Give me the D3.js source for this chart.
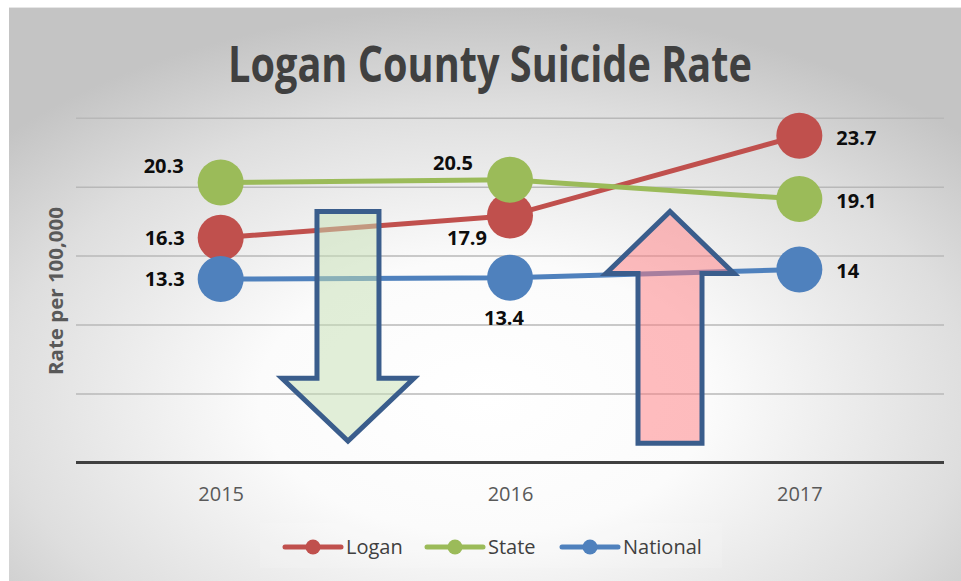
<!DOCTYPE html>
<html>
<head>
<meta charset="utf-8">
<script src="https://cdn.jsdelivr.net/npm/d3@7"></script>
<style>
  body { margin: 0; background: #fff; }
  svg { display: block; font-family: "Open Sans", "Noto Sans", sans-serif; }
</style>
</head>
<body>
<div id="chart"></div>
<script>
// Chart data
const years = ["2015", "2016", "2017"];
const logan = [16.3, 17.9, 23.7];
const state = [20.3, 20.5, 19.1];
const national = [13.3, 13.4, 14];
const seriesNames = ["Logan", "State", "National"];
const seriesColors = ["#c0504d", "#9bbb59", "#4f81bd"];

const width = 961, height = 581;
const plot = { left: 76, right: 944, top: 117.7, bottom: 462.5 };

const svg = d3.select("#chart").append("svg")
    .attr("width", width)
    .attr("height", height);

// Background gradient like the Excel chart area
const defs = svg.append("defs");
const grad = defs.append("radialGradient")
    .attr("id", "bg")
    .attr("cx", "50%").attr("cy", "68%").attr("r", "68%");
grad.append("stop").attr("offset", "0%").attr("stop-color", "#ffffff");
grad.append("stop").attr("offset", "35%").attr("stop-color", "#fbfbfb");
grad.append("stop").attr("offset", "75%").attr("stop-color", "#dedede");
grad.append("stop").attr("offset", "100%").attr("stop-color", "#c4c4c4");

svg.append("rect")
    .attr("x", 9).attr("y", 7)
    .attr("width", width - 9).attr("height", height - 7)
    .attr("fill", "url(#bg)");
svg.append("line")
    .attr("x1", 9).attr("x2", width).attr("y1", 7.5).attr("y2", 7.5)
    .attr("stroke", "#e6e6e6");

// Scales
const x = d3.scalePoint().domain(years).range([plot.left, plot.right]).padding(0.5);
const y = d3.scaleLinear().domain([0, 25]).range([plot.bottom, plot.top]);

// Gridlines
svg.append("g")
    .attr("transform", `translate(${plot.left},0)`)
    .call(d3.axisLeft(y).tickValues([5, 10, 15, 20, 25])
        .tickSize(-(plot.right - plot.left)).tickFormat(""))
    .call(g => g.select(".domain").remove())
    .call(g => g.selectAll(".tick line").attr("stroke", "#b8b8b8").attr("stroke-width", 1.5));

// Baseline / x axis
svg.append("g")
    .attr("transform", `translate(0,${plot.bottom})`)
    .call(d3.axisBottom(x).tickSize(0).tickPadding(24))
    .call(g => g.select(".domain").remove())
    .call(g => g.selectAll("text")
        .attr("font-size", 20).attr("fill", "#595959")
        .attr("font-family", "'Open Sans', sans-serif"));
svg.append("line")
    .attr("x1", plot.left).attr("x2", plot.right)
    .attr("y1", y(0)).attr("y2", y(0))
    .attr("stroke", "#404040").attr("stroke-width", 3);

// Title
svg.append("text")
    .attr("x", 490).attr("y", 82)
    .attr("text-anchor", "middle")
    .attr("font-size", 50).attr("font-weight", "bold")
    .attr("fill", "#404040")
    .attr("textLength", 524).attr("lengthAdjust", "spacingAndGlyphs")
    .text("Logan County Suicide Rate");

// Y axis title
svg.append("text")
    .attr("transform", "translate(63,291) rotate(-90)")
    .attr("text-anchor", "middle")
    .attr("font-size", 19).attr("font-weight", "bold")
    .attr("fill", "#595959")
    .attr("textLength", 168).attr("lengthAdjust", "spacingAndGlyphs")
    .text("Rate per 100,000");

// Series
const series = seriesNames.map((name, i) => ({
    name, color: seriesColors[i],
    values: [logan, state, national][i].map((v, j) => ({ year: years[j], value: v }))
}));

const line = d3.line().x(d => x(d.year)).y(d => y(d.value));

series.forEach(s => {
    const g = svg.append("g");
    g.append("path")
        .attr("d", line(s.values))
        .attr("fill", "none")
        .attr("stroke", s.color)
        .attr("stroke-width", 5);
    g.selectAll("circle")
        .data(s.values)
        .enter().append("circle")
        .attr("cx", d => x(d.year))
        .attr("cy", d => y(d.value))
        .attr("r", 23)
        .attr("fill", s.color);
});

// Block arrows (annotation shapes), placed between the year points
function arrowPath(cx, yTail, yShoulder, yTip, shaftHalf, headHalf) {
    return `M${cx - shaftHalf},${yTail} L${cx + shaftHalf},${yTail} L${cx + shaftHalf},${yShoulder}
            L${cx + headHalf},${yShoulder} L${cx},${yTip} L${cx - headHalf},${yShoulder}
            L${cx - shaftHalf},${yShoulder} Z`;
}
const between = (a, b, t) => x(a) + (x(b) - x(a)) * t;

svg.append("path")
    .attr("d", arrowPath(between("2015", "2016", 0.44), y(18.2), y(6.1), y(1.55), 31, 66))
    .attr("fill", "#c5e0b4").attr("fill-opacity", 0.5)
    .attr("stroke", "#3a5d8c").attr("stroke-width", 5).attr("stroke-linejoin", "miter");

svg.append("path")
    .attr("d", arrowPath(between("2016", "2017", 0.553), y(1.4), y(13.7), y(18.2), 32, 64))
    .attr("fill", "#ff7c80").attr("fill-opacity", 0.5)
    .attr("stroke", "#3a5d8c").attr("stroke-width", 5).attr("stroke-linejoin", "miter");

// Data labels
const placements = {
    Logan: ["left", "belowLeft", "right"],
    State: ["aboveLeft", "aboveLeft", "right"],
    National: ["left", "below", "right"]
};
const offsets = {
    left: [-36, 0, "end"],
    right: [37, 2, "start"],
    aboveLeft: [-37, -17, "end"],
    belowLeft: [-23, 22, "end"],
    below: [-6, 40, "middle"]
};

series.forEach(s => {
    svg.append("g").selectAll("text")
        .data(s.values)
        .enter().append("text")
        .attr("x", (d, i) => x(d.year) + offsets[placements[s.name][i]][0])
        .attr("y", (d, i) => y(d.value) + offsets[placements[s.name][i]][1])
        .attr("dy", "0.35em")
        .attr("text-anchor", (d, i) => offsets[placements[s.name][i]][2])
        .attr("font-size", 20).attr("font-weight", "bold")
        .attr("fill", "#0d0d0d")
        .text(d => d.value);
});

// Legend
const legend = svg.append("g");
legend.append("rect")
    .attr("x", 260).attr("y", 523).attr("width", 462).attr("height", 45)
    .attr("fill", "#ffffff").attr("fill-opacity", 0.12);

const legendX = [285, 427, 562];
series.forEach((s, i) => {
    const item = legend.append("g").attr("transform", `translate(${legendX[i]},547)`);
    item.append("line")
        .attr("x1", 0).attr("x2", 56)
        .attr("stroke", s.color).attr("stroke-width", 5).attr("stroke-linecap", "round");
    item.append("circle").attr("cx", 28).attr("r", 7.5).attr("fill", s.color);
    item.append("text")
        .attr("x", 61).attr("dy", "0.35em")
        .attr("font-size", 20).attr("fill", "#404040")
        .text(s.name);
});
</script>
</body>
</html>
